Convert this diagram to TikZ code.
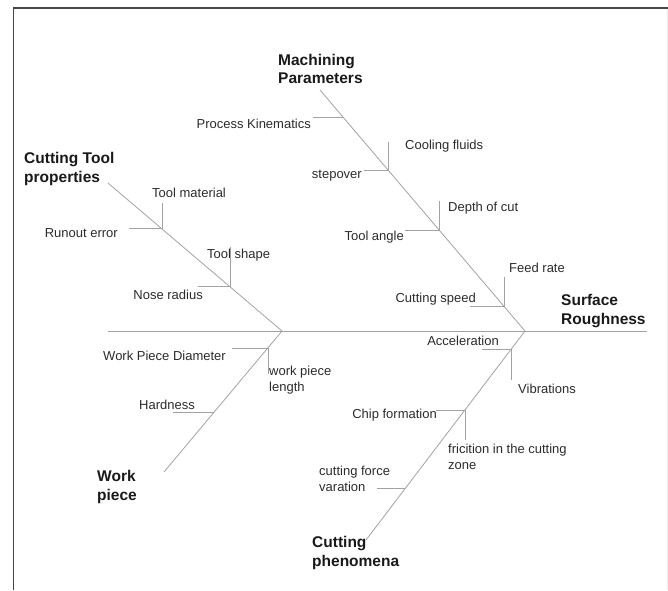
\documentclass[tikz,border=0pt]{standalone}
\usepackage{fontspec}
\setmainfont{Liberation Sans}
\usetikzlibrary{positioning}

\definecolor{boneGray}{HTML}{A2A2A2}
\definecolor{txtGray}{HTML}{2B2B2B}

\begin{document}
\begin{tikzpicture}[
    x=1pt, y=-1pt,
    every node/.style = {inner sep=0pt, text=txtGray},
    cause/.style      = {font=\fontsize{13}{15.5}\selectfont, align=left},
    group/.style      = {font=\fontsize{15.5}{18.5}\selectfont\bfseries,
                         align=left, text=black!90},
    bone/.style       = {draw=boneGray, line width=0.8pt},
    rib/.style        = {draw=boneGray, line width=0.8pt},
    frameline/.style  = {draw=black!72, line width=1.4pt}
]
\useasboundingbox (0,0) rectangle (668,590);

% frame
\coordinate (fTL) at (13.5,8);
\coordinate (fTR) at (668,8);
\coordinate (fBL) at (13.5,590);
\draw[frameline] (fBL) -- (fTL) -- (fTR);
\coordinate (fRT) at (667,9);
\coordinate (fRB) at (667,590);
\draw[black!8, line width=0.8pt] (fRT) -- (fRB);

% spine
\coordinate (spineL) at (108,331);
\coordinate (j)      at (282,331);
\coordinate (head)   at (525,331);
\coordinate (spineR) at (647,331);
\draw[bone] (spineL) -- (j) -- (head) -- (spineR);
\node[group, anchor=west] (effect) at (561,311) {Surface\\Roughness};

% machining parameters
\coordinate (mpT) at (320,90);
\draw[bone] (mpT) -- (head);
\node[group, anchor=west] (mp) at (278,69) {Machining\\Parameters};

\coordinate (mp1) at (343,117);  \coordinate (mp1a) at (313,117);
\draw[rib] (mp1) -- (mp1a);
\node[cause, anchor=east] (kin) at (311,124) {Process Kinematics};

\coordinate (mp2) at (388,170);  \coordinate (mp2a) at (364,170);
\coordinate (mp2b) at (388,142);
\draw[rib] (mp2a) -- (mp2) -- (mp2b);
\node[cause, anchor=east] (stp) at (362,176) {stepover};
\node[cause, anchor=west] (cool) at (405,146) {Cooling fluids};

\coordinate (mp3) at (439,230);  \coordinate (mp3a) at (405,230);
\coordinate (mp3b) at (439,201);
\draw[rib] (mp3a) -- (mp3) -- (mp3b);
\node[cause, anchor=east] (tang) at (404,237) {Tool angle};
\node[cause, anchor=west] (doc) at (448,208) {Depth of cut};

\coordinate (mp4) at (504,306);  \coordinate (mp4a) at (470,306);
\coordinate (mp4b) at (504,277);
\draw[rib] (mp4a) -- (mp4) -- (mp4b);
\node[cause, anchor=east] (vc) at (476,299) {Cutting speed};
\node[cause, anchor=west] (feed) at (509,268) {Feed rate};

% cutting tool properties
\coordinate (ctT) at (108,183);
\draw[bone] (ctT) -- (j);
\node[group, anchor=west] (ct) at (24,169) {Cutting Tool\\properties};

\coordinate (ct1) at (162,228);  \coordinate (ct1a) at (129,228);
\coordinate (ct1b) at (162,203);
\draw[rib] (ct1a) -- (ct1) -- (ct1b);
\node[cause, anchor=east] (run) at (118,233) {Runout error};
\node[cause, anchor=west] (tmat) at (152,193) {Tool material};

\coordinate (ct2) at (230,286);  \coordinate (ct2a) at (198,286);
\coordinate (ct2b) at (230,247);
\draw[rib] (ct2a) -- (ct2) -- (ct2b);
\node[cause, anchor=east] (nose) at (203,295) {Nose radius};
\node[cause, anchor=west] (tshp) at (207,255) {Tool shape};

% work piece
\coordinate (wpT) at (164,472);
\draw[bone] (j) -- (wpT);
\node[group, anchor=west] (wp) at (97,487) {Work\\piece};

\coordinate (wp1) at (268,348);  \coordinate (wp1a) at (232,348);
\coordinate (wp1b) at (268,374);
\draw[rib] (wp1a) -- (wp1) -- (wp1b);
\node[cause, anchor=east] (dia) at (226,356) {Work Piece Diameter};
\node[cause, anchor=west] (len) at (269,380) {work piece\\length};

\coordinate (wp2) at (214,412);  \coordinate (wp2a) at (173,412);
\draw[rib] (wp2) -- (wp2a);
\node[cause, anchor=east] (hard) at (195,405) {Hardness};

% cutting phenomena
\coordinate (cpT) at (366,540);
\draw[bone] (head) -- (cpT);
\node[group, anchor=west] (cp) at (312,553) {Cutting\\phenomena};

\coordinate (cp1) at (511,349);  \coordinate (cp1a) at (482,349);
\coordinate (cp1b) at (511,380);
\draw[rib] (cp1a) -- (cp1) -- (cp1b);
\node[cause, anchor=east] (acc) at (499,341) {Acceleration};
\node[cause, anchor=west] (vib) at (518,389) {Vibrations};

\coordinate (cp2) at (465,410);  \coordinate (cp2a) at (436,410);
\coordinate (cp2b) at (465,440);
\draw[rib] (cp2a) -- (cp2) -- (cp2b);
\node[cause, anchor=east] (chip) at (437,415) {Chip formation};
\node[cause, anchor=west] (fric) at (448,457) {fricition in the cutting\\zone};

\coordinate (cp3) at (405,488);  \coordinate (cp3a) at (377,488);
\draw[rib] (cp3) -- (cp3a);
\node[cause, anchor=west] (force) at (319,479) {cutting force\\varation};
\end{tikzpicture}
\end{document}
